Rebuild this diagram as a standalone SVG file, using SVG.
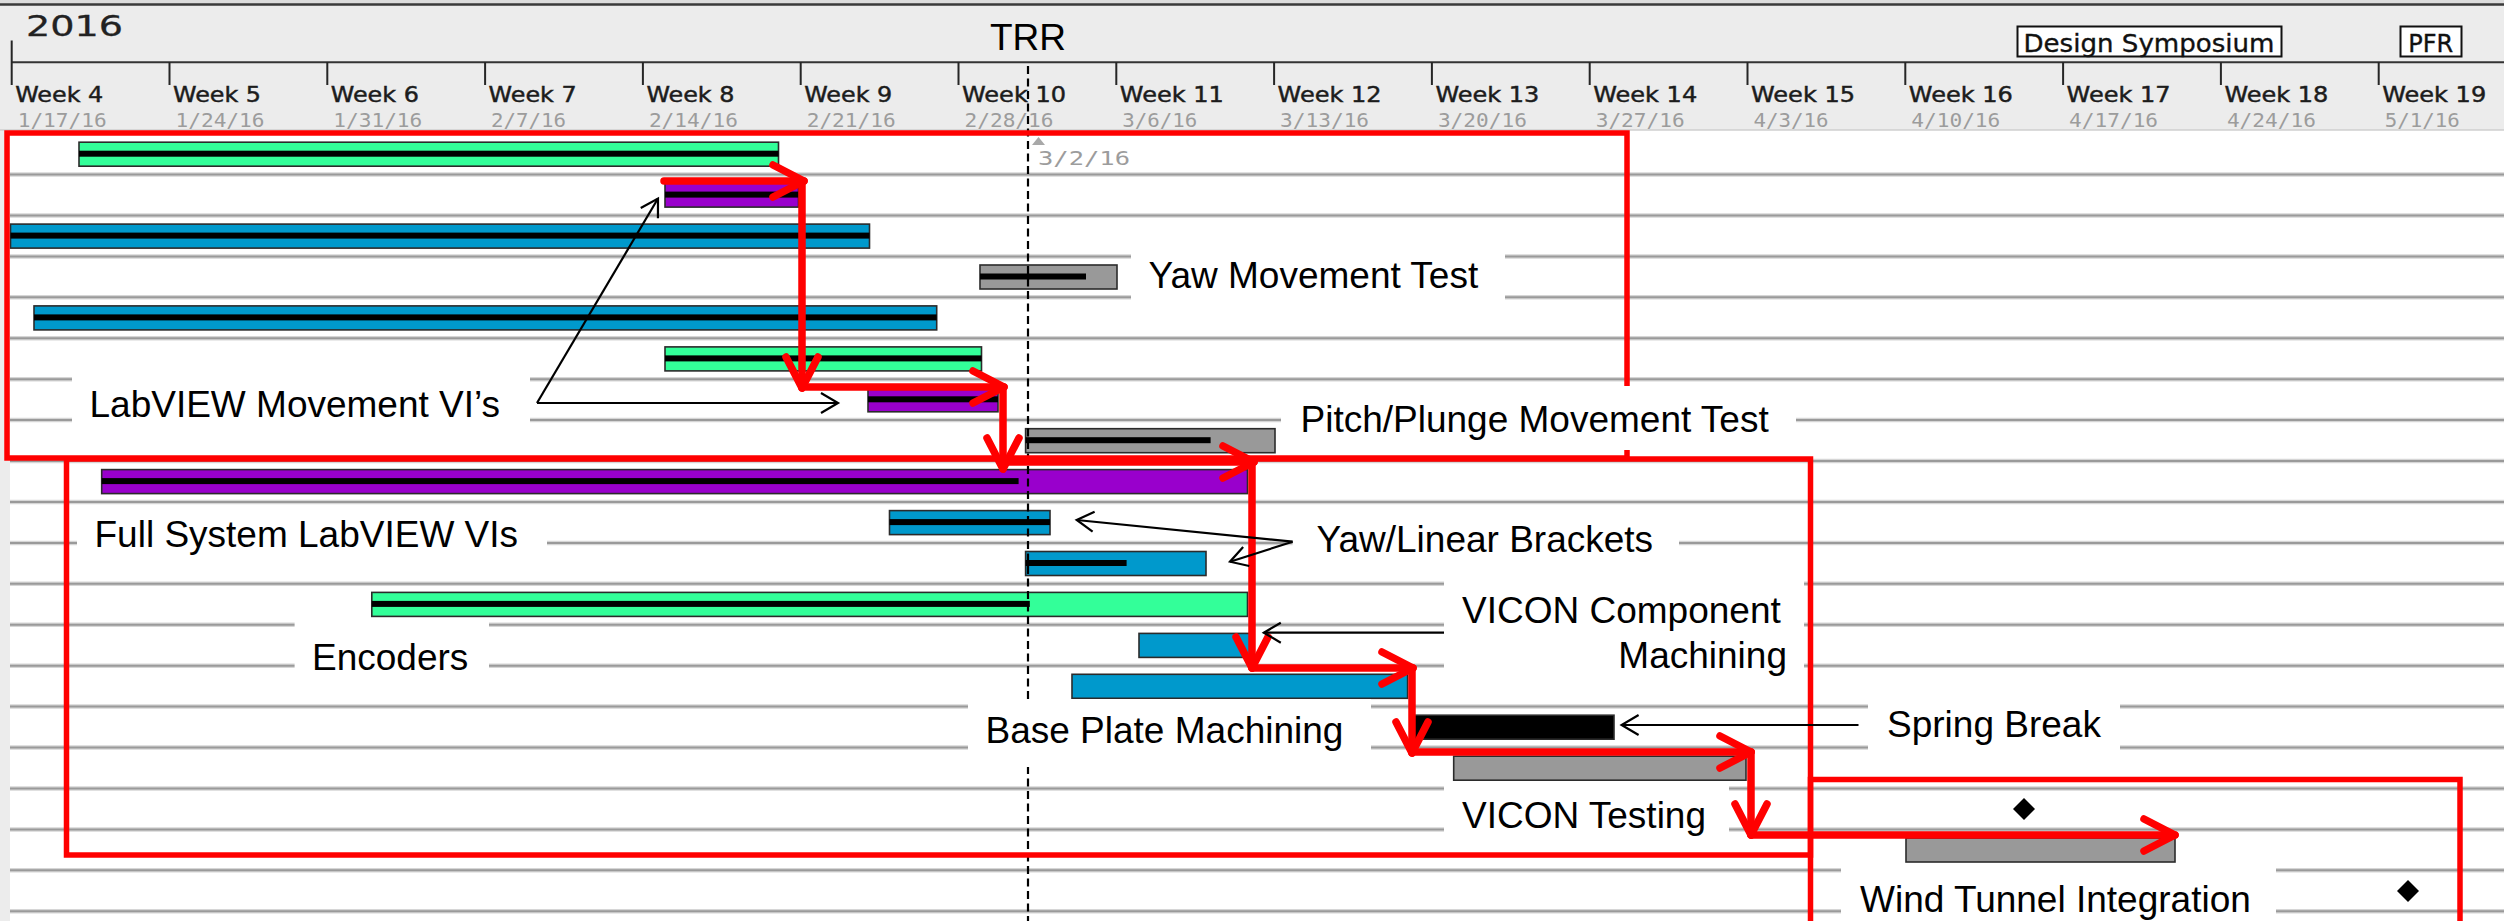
<svg xmlns="http://www.w3.org/2000/svg" width="2504" height="921" viewBox="0 0 2504 921">
  <defs>
    <style>
      .hdr-year{font-family:"DejaVu Sans",sans-serif;font-size:29px;fill:#222;stroke:#222;stroke-width:0.3}
      .hdr-week{font-family:"DejaVu Sans",sans-serif;font-size:21px;fill:#1c1c1c;stroke:#1c1c1c;stroke-width:0.45}
      .hdr-date{font-family:"DejaVu Sans Mono",monospace;font-size:19px;fill:#9c9c9c}
      .hdr-mile{font-family:"DejaVu Sans",sans-serif;font-size:25px;fill:#111;stroke:#111;stroke-width:0.35}
      .tick{stroke:#262626;stroke-width:2}
      .row-halo{stroke:#d6d6d6;stroke-width:4.5}
      .row-line{stroke:#9a9a9a;stroke-width:2}
      .bar{stroke:#2b2b2b;stroke-width:1.6}
      .green{fill:#33ff99}
      .blue{fill:#0099cc}
      .purple{fill:#9900cc}
      .grey{fill:#999999}
      .black{fill:#000}
      .stripe{fill:#000}
      .lbl-bg{fill:#fff}
      .lbl{font-family:"Liberation Sans",Arial,sans-serif;font-size:37px;fill:#000}
      .frame{fill:none;stroke:#ff0000;stroke-width:5.5}
      .crit{fill:none;stroke:#ff0000;stroke-width:7.5;stroke-linecap:round;marker-end:url(#red-chevron)}
      .note{fill:none;stroke:#000;stroke-width:2.2;marker-end:url(#open-arrow)}
    </style>
    <marker id="red-chevron" markerUnits="userSpaceOnUse" viewBox="-40 -25 50 50" refX="0" refY="0" markerWidth="50" markerHeight="50" orient="auto" overflow="visible">
      <path d="M-31,-16 L0,0 L-31,16" fill="none" stroke="#ff0000" stroke-width="7.5" stroke-linecap="round" stroke-linejoin="round"/>
    </marker>
    <marker id="open-arrow" markerUnits="userSpaceOnUse" viewBox="-25 -15 30 30" refX="0" refY="0" markerWidth="30" markerHeight="30" orient="auto" overflow="visible">
      <path d="M-17,-10 L0,0 L-17,10" fill="none" stroke="#000" stroke-width="2.2"/>
    </marker>
  </defs>

  <!-- backgrounds -->
  <rect x="0" y="0" width="2504" height="921" fill="#fff"/>
  <rect x="0" y="0" width="2504" height="130" fill="#ececec"/>
  <rect x="0" y="0" width="2504" height="4" fill="#dcdcdc"/>
  <rect x="0" y="130" width="10" height="791" fill="#ececec"/>
  <line x1="0" y1="4.5" x2="2504" y2="4.5" stroke="#3a3a3a" stroke-width="2.5"/>
  <line x1="0" y1="130" x2="2504" y2="130" stroke="#cfcfcf" stroke-width="1.5"/>

  <!-- timescale header -->
  <g id="timescale">
    <text class="hdr-year" x="26" y="36" textLength="97" lengthAdjust="spacingAndGlyphs">2016</text>
    <line x1="11.7" y1="62.3" x2="2504" y2="62.3" stroke="#333" stroke-width="2"/>
    <line class="tick" x1="11.7" y1="40.5" x2="11.7" y2="85"/>
    <line class="tick" x1="169.5" y1="62" x2="169.5" y2="85"/>
    <line class="tick" x1="327.3" y1="62" x2="327.3" y2="85"/>
    <line class="tick" x1="485.1" y1="62" x2="485.1" y2="85"/>
    <line class="tick" x1="642.9" y1="62" x2="642.9" y2="85"/>
    <line class="tick" x1="800.7" y1="62" x2="800.7" y2="85"/>
    <line class="tick" x1="958.5" y1="62" x2="958.5" y2="85"/>
    <line class="tick" x1="1116.3" y1="62" x2="1116.3" y2="85"/>
    <line class="tick" x1="1274.1" y1="62" x2="1274.1" y2="85"/>
    <line class="tick" x1="1431.9" y1="62" x2="1431.9" y2="85"/>
    <line class="tick" x1="1589.7" y1="62" x2="1589.7" y2="85"/>
    <line class="tick" x1="1747.5" y1="62" x2="1747.5" y2="85"/>
    <line class="tick" x1="1905.3" y1="62" x2="1905.3" y2="85"/>
    <line class="tick" x1="2063.1" y1="62" x2="2063.1" y2="85"/>
    <line class="tick" x1="2220.9" y1="62" x2="2220.9" y2="85"/>
    <line class="tick" x1="2378.7" y1="62" x2="2378.7" y2="85"/>

    <text class="hdr-week" x="15.2" y="101.5" textLength="88" lengthAdjust="spacingAndGlyphs">Week 4</text>
    <text class="hdr-week" x="173" y="101.5" textLength="88" lengthAdjust="spacingAndGlyphs">Week 5</text>
    <text class="hdr-week" x="330.8" y="101.5" textLength="88" lengthAdjust="spacingAndGlyphs">Week 6</text>
    <text class="hdr-week" x="488.6" y="101.5" textLength="88" lengthAdjust="spacingAndGlyphs">Week 7</text>
    <text class="hdr-week" x="646.4" y="101.5" textLength="88" lengthAdjust="spacingAndGlyphs">Week 8</text>
    <text class="hdr-week" x="804.2" y="101.5" textLength="88" lengthAdjust="spacingAndGlyphs">Week 9</text>
    <text class="hdr-week" x="962" y="101.5" textLength="104" lengthAdjust="spacingAndGlyphs">Week 10</text>
    <text class="hdr-week" x="1119.8" y="101.5" textLength="104" lengthAdjust="spacingAndGlyphs">Week 11</text>
    <text class="hdr-week" x="1277.6" y="101.5" textLength="104" lengthAdjust="spacingAndGlyphs">Week 12</text>
    <text class="hdr-week" x="1435.4" y="101.5" textLength="104" lengthAdjust="spacingAndGlyphs">Week 13</text>
    <text class="hdr-week" x="1593.2" y="101.5" textLength="104" lengthAdjust="spacingAndGlyphs">Week 14</text>
    <text class="hdr-week" x="1751" y="101.5" textLength="104" lengthAdjust="spacingAndGlyphs">Week 15</text>
    <text class="hdr-week" x="1908.8" y="101.5" textLength="104" lengthAdjust="spacingAndGlyphs">Week 16</text>
    <text class="hdr-week" x="2066.6" y="101.5" textLength="104" lengthAdjust="spacingAndGlyphs">Week 17</text>
    <text class="hdr-week" x="2224.4" y="101.5" textLength="104" lengthAdjust="spacingAndGlyphs">Week 18</text>
    <text class="hdr-week" x="2382.2" y="101.5" textLength="104" lengthAdjust="spacingAndGlyphs">Week 19</text>

    <text class="hdr-date" x="17.7" y="127" textLength="89" lengthAdjust="spacingAndGlyphs">1/17/16</text>
    <text class="hdr-date" x="175.5" y="127" textLength="89" lengthAdjust="spacingAndGlyphs">1/24/16</text>
    <text class="hdr-date" x="333.3" y="127" textLength="89" lengthAdjust="spacingAndGlyphs">1/31/16</text>
    <text class="hdr-date" x="491.1" y="127" textLength="75" lengthAdjust="spacingAndGlyphs">2/7/16</text>
    <text class="hdr-date" x="648.9" y="127" textLength="89" lengthAdjust="spacingAndGlyphs">2/14/16</text>
    <text class="hdr-date" x="806.7" y="127" textLength="89" lengthAdjust="spacingAndGlyphs">2/21/16</text>
    <text class="hdr-date" x="964.5" y="127" textLength="89" lengthAdjust="spacingAndGlyphs">2/28/16</text>
    <text class="hdr-date" x="1122.3" y="127" textLength="75" lengthAdjust="spacingAndGlyphs">3/6/16</text>
    <text class="hdr-date" x="1280.1" y="127" textLength="89" lengthAdjust="spacingAndGlyphs">3/13/16</text>
    <text class="hdr-date" x="1437.9" y="127" textLength="89" lengthAdjust="spacingAndGlyphs">3/20/16</text>
    <text class="hdr-date" x="1595.7" y="127" textLength="89" lengthAdjust="spacingAndGlyphs">3/27/16</text>
    <text class="hdr-date" x="1753.5" y="127" textLength="75" lengthAdjust="spacingAndGlyphs">4/3/16</text>
    <text class="hdr-date" x="1911.3" y="127" textLength="89" lengthAdjust="spacingAndGlyphs">4/10/16</text>
    <text class="hdr-date" x="2069.1" y="127" textLength="89" lengthAdjust="spacingAndGlyphs">4/17/16</text>
    <text class="hdr-date" x="2226.9" y="127" textLength="89" lengthAdjust="spacingAndGlyphs">4/24/16</text>
    <text class="hdr-date" x="2384.7" y="127" textLength="75" lengthAdjust="spacingAndGlyphs">5/1/16</text>
  </g>

  <!-- review milestones in the header -->
  <g id="milestone-trr">
    <text x="990" y="50" font-family="Liberation Sans, Arial, sans-serif" font-size="37" fill="#000">TRR</text>
  </g>
  <g id="milestone-design-symposium">
    <rect x="2017.5" y="26.5" width="264" height="30" fill="#fff" stroke="#111" stroke-width="2"/>
    <text class="hdr-mile" x="2023.5" y="51.5" textLength="251" lengthAdjust="spacingAndGlyphs">Design Symposium</text>
  </g>
  <g id="milestone-pfr">
    <rect x="2400.5" y="26.5" width="61" height="30" fill="#fff" stroke="#111" stroke-width="2"/>
    <text class="hdr-mile" x="2408.3" y="51.5" textLength="45" lengthAdjust="spacingAndGlyphs">PFR</text>
  </g>

  <!-- row separators -->
  <g id="rows">
    <g class="row-halo">
      <line x1="10" y1="174.5" x2="2504" y2="174.5"/>
      <line x1="10" y1="215.4" x2="2504" y2="215.4"/>
      <line x1="10" y1="256.4" x2="2504" y2="256.4"/>
      <line x1="10" y1="297.3" x2="2504" y2="297.3"/>
      <line x1="10" y1="338.2" x2="2504" y2="338.2"/>
      <line x1="10" y1="379.2" x2="2504" y2="379.2"/>
      <line x1="10" y1="420.1" x2="2504" y2="420.1"/>
      <line x1="10" y1="461" x2="2504" y2="461"/>
      <line x1="10" y1="501.9" x2="2504" y2="501.9"/>
      <line x1="10" y1="542.9" x2="2504" y2="542.9"/>
      <line x1="10" y1="583.8" x2="2504" y2="583.8"/>
      <line x1="10" y1="624.7" x2="2504" y2="624.7"/>
      <line x1="10" y1="665.7" x2="2504" y2="665.7"/>
      <line x1="10" y1="706.6" x2="2504" y2="706.6"/>
      <line x1="10" y1="747.5" x2="2504" y2="747.5"/>
      <line x1="10" y1="788.5" x2="2504" y2="788.5"/>
      <line x1="10" y1="829.4" x2="2504" y2="829.4"/>
      <line x1="10" y1="870.3" x2="2504" y2="870.3"/>
      <line x1="10" y1="911.2" x2="2504" y2="911.2"/>
    </g>
    <g class="row-line">
      <line x1="10" y1="174.5" x2="2504" y2="174.5"/>
      <line x1="10" y1="215.4" x2="2504" y2="215.4"/>
      <line x1="10" y1="256.4" x2="2504" y2="256.4"/>
      <line x1="10" y1="297.3" x2="2504" y2="297.3"/>
      <line x1="10" y1="338.2" x2="2504" y2="338.2"/>
      <line x1="10" y1="379.2" x2="2504" y2="379.2"/>
      <line x1="10" y1="420.1" x2="2504" y2="420.1"/>
      <line x1="10" y1="461" x2="2504" y2="461"/>
      <line x1="10" y1="501.9" x2="2504" y2="501.9"/>
      <line x1="10" y1="542.9" x2="2504" y2="542.9"/>
      <line x1="10" y1="583.8" x2="2504" y2="583.8"/>
      <line x1="10" y1="624.7" x2="2504" y2="624.7"/>
      <line x1="10" y1="665.7" x2="2504" y2="665.7"/>
      <line x1="10" y1="706.6" x2="2504" y2="706.6"/>
      <line x1="10" y1="747.5" x2="2504" y2="747.5"/>
      <line x1="10" y1="788.5" x2="2504" y2="788.5"/>
      <line x1="10" y1="829.4" x2="2504" y2="829.4"/>
      <line x1="10" y1="870.3" x2="2504" y2="870.3"/>
      <line x1="10" y1="911.2" x2="2504" y2="911.2"/>
    </g>
  </g>

  <!-- task bars -->
  <g id="task-01"><rect class="bar green" x="79" y="142.2" width="699.5" height="24"/><rect class="stripe" x="79" y="150.7" width="699.5" height="6"/></g>
  <g id="task-02"><rect class="bar purple" x="665" y="183.1" width="133.5" height="24"/><rect class="stripe" x="665" y="191.6" width="133.5" height="6"/></g>
  <g id="task-03"><rect class="bar blue" x="10.5" y="224.1" width="859" height="24"/><rect class="stripe" x="10.5" y="232.6" width="859" height="6"/></g>
  <g id="task-04"><rect class="bar grey" x="980" y="265" width="137" height="24"/><rect class="stripe" x="980" y="273.5" width="106" height="6"/></g>
  <g id="task-05"><rect class="bar blue" x="34" y="305.9" width="902.7" height="24"/><rect class="stripe" x="34" y="314.4" width="902.7" height="6"/></g>
  <g id="task-06"><rect class="bar green" x="665" y="346.9" width="316.5" height="24"/><rect class="stripe" x="665" y="355.4" width="316.5" height="6"/></g>
  <g id="task-07"><rect class="bar purple" x="868" y="387.8" width="130" height="24"/><rect class="stripe" x="868" y="396.3" width="130" height="6"/></g>
  <g id="task-08"><rect class="bar grey" x="1025.6" y="428.7" width="249.4" height="24"/><rect class="stripe" x="1025.6" y="437.2" width="185" height="6"/></g>
  <g id="task-09"><rect class="bar purple" x="101.7" y="469.6" width="1145.8" height="24"/><rect class="stripe" x="101.7" y="478.1" width="916.9" height="6"/></g>
  <g id="task-10"><rect class="bar blue" x="889.5" y="510.6" width="160.5" height="24"/><rect class="stripe" x="889.5" y="519.1" width="160.5" height="6"/></g>
  <g id="task-11"><rect class="bar blue" x="1025.6" y="551.5" width="180.4" height="24"/><rect class="stripe" x="1025.6" y="560" width="101" height="6"/></g>
  <g id="task-12"><rect class="bar green" x="371.8" y="592.4" width="875.7" height="24"/><rect class="stripe" x="371.8" y="600.9" width="658" height="6"/></g>
  <g id="task-13"><rect class="bar blue" x="1139" y="633.4" width="112" height="24"/></g>
  <g id="task-14"><rect class="bar blue" x="1072" y="674.3" width="335.6" height="24"/></g>
  <g id="task-15"><rect class="bar black" x="1412.5" y="715.2" width="201.5" height="24"/></g>
  <g id="task-16"><rect class="bar grey" x="1453.7" y="756.2" width="292.3" height="24"/></g>
  <g id="task-17"><polygon points="2024,798 2035,809 2024,820 2013,809" fill="#000"/></g>
  <g id="task-18"><rect class="bar grey" x="1906" y="838" width="269" height="24"/></g>
  <g id="task-19"><polygon points="2408,880 2419,891 2408,902 2397,891" fill="#000"/></g>

  <!-- status date marker -->
  <g id="status-date">
    <line x1="1028" y1="66" x2="1028" y2="921" stroke="#000" stroke-width="2.2" stroke-dasharray="8 4.5"/>
    <polygon points="1032,145 1038.5,137 1045,145" fill="#a8a8a8"/>
    <text class="hdr-date" x="1038" y="165" font-size="20" textLength="92" lengthAdjust="spacingAndGlyphs">3/2/16</text>
  </g>

  <!-- phase frames -->
  <g id="phase-1"><rect class="frame" x="7" y="133" width="1620" height="325"/></g>
  <g id="phase-2"><rect class="frame" x="66.5" y="459" width="1744" height="396"/></g>
  <g id="phase-3"><rect class="frame" x="1810.5" y="779.5" width="649.5" height="300"/></g>

  <!-- annotations -->
  <g id="label-yaw-movement-test">
    <rect class="lbl-bg" x="1131" y="252" width="374" height="50"/>
    <text class="lbl" x="1148.5" y="288.3">Yaw Movement Test</text>
  </g>
  <g id="label-labview-movement">
    <rect class="lbl-bg" x="72" y="376" width="458" height="48"/>
    <text class="lbl" x="89.5" y="416.5">LabVIEW Movement VI’s</text>
  </g>
  <g id="label-pitch-plunge">
    <rect class="lbl-bg" x="1281" y="386" width="515" height="64"/>
    <text class="lbl" x="1300.5" y="431.5">Pitch/Plunge Movement Test</text>
  </g>
  <g id="label-full-system">
    <rect class="lbl-bg" x="77" y="505" width="470" height="43"/>
    <text class="lbl" x="94.5" y="546.5">Full System LabVIEW VIs</text>
  </g>
  <g id="label-brackets">
    <rect class="lbl-bg" x="1292.6" y="515" width="386.4" height="48"/>
    <text class="lbl" x="1316.5" y="551.5">Yaw/Linear Brackets</text>
  </g>
  <g id="label-encoders">
    <rect class="lbl-bg" x="294.6" y="620" width="194.4" height="50"/>
    <text class="lbl" x="312" y="670">Encoders</text>
  </g>
  <g id="label-vicon-machining">
    <rect class="lbl-bg" x="1444" y="578" width="360" height="95"/>
    <text class="lbl" x="1462" y="623">VICON Component</text>
    <text class="lbl" x="1787" y="668" text-anchor="end">Machining</text>
  </g>
  <g id="label-base-plate">
    <rect class="lbl-bg" x="968" y="699" width="403" height="68"/>
    <text class="lbl" x="985.5" y="743.3">Base Plate Machining</text>
  </g>
  <g id="label-spring-break">
    <rect class="lbl-bg" x="1868" y="701" width="252" height="51"/>
    <text class="lbl" x="1887" y="736.7">Spring Break</text>
  </g>
  <g id="label-vicon-testing">
    <rect class="lbl-bg" x="1444" y="783" width="285" height="51"/>
    <text class="lbl" x="1462" y="828.3">VICON Testing</text>
  </g>
  <g id="label-wind-tunnel">
    <rect class="lbl-bg" x="1841" y="865" width="435" height="56"/>
    <text class="lbl" x="1860" y="911.5">Wind Tunnel Integration</text>
  </g>

  <!-- connectors: critical path and annotation pointers -->
  <g id="connectors">
    <path class="crit" d="M664,181 L804,181"/>
    <path class="crit" d="M802,181 L802,388"/>
    <path class="crit" d="M802,387 L1004,387"/>
    <path class="crit" d="M1003,387 L1003,469"/>
    <path class="crit" d="M1003,462 L1254,462"/>
    <path class="crit" d="M1252,462 L1252,668"/>
    <path class="crit" d="M1252,668 L1413,668"/>
    <path class="crit" d="M1412,668 L1412,753"/>
    <path class="crit" d="M1412,752 L1751,752"/>
    <path class="crit" d="M1751,752 L1751,835"/>
    <path class="crit" d="M1751,835 L2175,835"/>

    <path class="note" d="M537,403 L658,198.5"/>
    <path class="note" d="M537,403 L838,403"/>
    <path class="note" d="M1292.6,541.7 L1076.7,520"/>
    <path class="note" d="M1292.6,541.7 L1230,561.7"/>
    <path class="note" d="M1444,632.7 L1263.8,632.7"/>
    <path class="note" d="M1858.5,725 L1621.6,725"/>
  </g>
</svg>
